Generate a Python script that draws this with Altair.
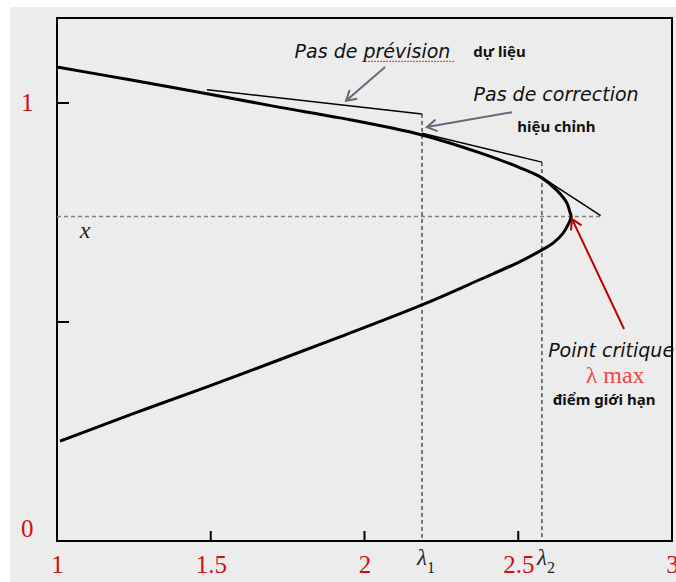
import math
import altair as alt
import pandas as pd

# Plot-area size and axis ranges
W, H = 615, 523
LAM_MIN, LAM_MAX = 1.0, 3.0
V_MAX = 1.194

# Nose (PV) curve: load factor λ against voltage, upper then lower branch
curve_lambda = [1.000, 1.237, 1.488, 1.725, 1.920, 2.187, 2.376, 2.506, 2.577, 2.625,
                2.658, 2.668, 2.672, 2.665, 2.646, 2.613, 2.576, 2.506, 2.376, 2.187,
                1.920, 1.488, 1.237, 1.010]
curve_v = [1.082, 1.053, 1.021, 0.990, 0.966, 0.927, 0.886, 0.852, 0.829, 0.801,
           0.772, 0.751, 0.740, 0.726, 0.703, 0.680, 0.664, 0.638, 0.597, 0.539,
           0.466, 0.352, 0.288, 0.228]

# Predictor steps (tangent segments)
step_lambda0 = [1.488, 2.187, 2.577]
step_v0 = [1.030, 0.931, 0.830]
step_lambda1 = [2.187, 2.577, 2.768]
step_v1 = [0.975, 0.865, 0.743]

# Projection lines down to λ1, λ2
proj_lambda = [2.187, 2.577]
proj_top = [0.975, 0.865]
proj_names = ["λ", "λ"]
proj_subs = ["1", "2"]
proj_dx = [-2, 13]

# Critical voltage level
crit_v = 0.741
crit_lambda_end = 2.768

# Axis ticks and labels
x_ticks = [1.5, 2.0, 2.5]
x_labels = [1, 1.5, 2, 2.5, 3]
y_ticks = [0.5, 1.0]
y_labels = [0, 1]

# Annotation arrows (tail -> head)
arrow_from_lambda = [2.067, 2.480, 2.844]
arrow_from_v = [1.082, 0.979, 0.484]
arrow_to_lambda = [1.940, 2.203, 2.675]
arrow_to_v = [1.005, 0.945, 0.735]
arrow_colors = ["#5f6b7b", "#5f6b7b", "#c00000"]

# Text annotations
italic_text = ["Pas de prévision", "Pas de correction", "Point critique"]
italic_lambda = [2.026, 2.623, 2.802]
italic_v = [1.103, 1.005, 0.420]

bold_text = ["dự liệu", "hiệu chỉnh", "điểm giới hạn"]
bold_lambda = [2.439, 2.624, 2.779]
bold_v = [1.105, 0.934, 0.311]

lmax_text = ["λ max"]
lmax_lambda = [2.815]
lmax_v = [0.361]

var_text = ["x"]
var_lambda = [1.091]
var_v = [0.692]

# spell-check underline under "prévision"
underline_lambda = [1.992, 2.294]
underline_v = [1.095, 1.095]

xs = alt.Scale(domain=[LAM_MIN, LAM_MAX], nice=False, zero=False)
ys = alt.Scale(domain=[0, V_MAX], nice=False, zero=False)

x_axis = alt.Axis(values=x_labels, labelColor="#cc1111",
                  labelFont="Liberation Serif", labelFontSize=25,
                  ticks=False, domain=False, grid=False,
                  labelPadding=11, labelFlush=False, format="~g")
y_axis = alt.Axis(values=y_labels, labelColor="#cc1111",
                  labelFont="Liberation Serif", labelFontSize=25,
                  ticks=False, domain=False, grid=False,
                  labelPadding=24, labelFlush=True, format="~g")


def X(field="lam"):
    return alt.X(f"{field}:Q", scale=xs, title=None, axis=x_axis)


def Y(field="v"):
    return alt.Y(f"{field}:Q", scale=ys, title=None, axis=y_axis)


curve_df = pd.DataFrame({"lam": curve_lambda, "v": curve_v,
                         "i": list(range(len(curve_lambda)))})
curve = alt.Chart(curve_df).mark_line(
    color="black", strokeWidth=3, interpolate="catmull-rom"
).encode(x=X(), y=Y(), order="i:Q")

steps_df = pd.DataFrame({"lam": step_lambda0, "v": step_v0,
                         "lam2": step_lambda1, "v2": step_v1})
steps = alt.Chart(steps_df).mark_rule(color="black", strokeWidth=1.5).encode(
    x=X(), y=Y(), x2="lam2:Q", y2="v2:Q")

proj_df = pd.DataFrame({"lam": proj_lambda, "v": proj_top, "v0": [0, 0],
                        "name": proj_names, "sub": proj_subs, "dx": proj_dx})
proj = alt.Chart(proj_df).mark_rule(color="black", strokeWidth=1,
                                    strokeDash=[4, 3]).encode(
    x=X(), y=Y(), y2="v0:Q")

crit_df = pd.DataFrame({"lam": [LAM_MIN], "lam2": [crit_lambda_end], "v": [crit_v]})
crit = alt.Chart(crit_df).mark_rule(color="#808080", strokeWidth=1.5,
                                    strokeDash=[4, 3]).encode(
    x=X(), x2="lam2:Q", y=Y())

xt_df = pd.DataFrame({"lam": x_ticks})
xticks = alt.Chart(xt_df).mark_rule(color="black", strokeWidth=2).encode(
    x=X(), y=alt.value(H), y2=alt.value(H - 10))
yt_df = pd.DataFrame({"v": y_ticks})
yticks = alt.Chart(yt_df).mark_rule(color="black", strokeWidth=2).encode(
    y=Y(), x=alt.value(0), x2=alt.value(12))

lam_base = alt.Chart(proj_df).encode(x=X(), y=alt.value(H))
lam_sym = lam_base.mark_text(font="Liberation Serif", fontStyle="italic",
                             fontSize=23, baseline="alphabetic", dy=24,
                             color="#222222").encode(
    text="name:N", xOffset=alt.XOffset("dx:Q", scale=None))
lam_sub = lam_base.mark_text(font="Liberation Serif", fontSize=16,
                             baseline="alphabetic", dy=32, dx=9,
                             color="#222222").encode(
    text="sub:N", xOffset=alt.XOffset("dx:Q", scale=None))

# arrows: shaft plus an open chevron head rotated along the shaft
px_x = W / (LAM_MAX - LAM_MIN)
px_y = H / V_MAX
angles = []
for x0, y0, x1, y1 in zip(arrow_from_lambda, arrow_from_v, arrow_to_lambda, arrow_to_v):
    dx = (x1 - x0) * px_x
    dy = -(y1 - y0) * px_y
    angles.append(math.degrees(math.atan2(dx, -dy)) % 360)

arrow_df = pd.DataFrame({"lam": arrow_from_lambda, "v": arrow_from_v,
                         "lam2": arrow_to_lambda, "v2": arrow_to_v,
                         "col": arrow_colors, "ang": angles})
shafts = alt.Chart(arrow_df).mark_rule(strokeWidth=2).encode(
    x=X(), y=Y(), x2="lam2:Q", y2="v2:Q",
    color=alt.Color("col:N", scale=None))
heads = alt.Chart(arrow_df).mark_point(
    shape="M -0.6 1 L 0 0 L 0.6 1", filled=False, strokeWidth=2, size=380,
    opacity=1
).encode(x=X("lam2"), y=Y("v2"), angle=alt.Angle("ang:Q", scale=None),
         stroke=alt.Stroke("col:N", scale=None))

ul_df = pd.DataFrame({"lam": underline_lambda, "v": underline_v})
underline = alt.Chart(ul_df).mark_line(color="#e03030", strokeWidth=1,
                                       strokeDash=[2, 1]).encode(x=X(), y=Y())

it_df = pd.DataFrame({"lam": italic_lambda, "v": italic_v, "t": italic_text})
italic = alt.Chart(it_df).mark_text(font="DejaVu Sans", fontStyle="italic",
                                    fontSize=19, baseline="alphabetic",
                                    color="#111111").encode(
    x=X(), y=Y(), text="t:N")

bd_df = pd.DataFrame({"lam": bold_lambda, "v": bold_v, "t": bold_text})
bold = alt.Chart(bd_df).mark_text(font="Noto Sans", fontWeight="bold",
                                  fontSize=15, baseline="alphabetic",
                                  color="#111111").encode(
    x=X(), y=Y(), text="t:N")

lm_df = pd.DataFrame({"lam": lmax_lambda, "v": lmax_v, "t": lmax_text})
lmax = alt.Chart(lm_df).mark_text(font="Liberation Serif", fontSize=24,
                                  baseline="alphabetic", color="#f04848").encode(
    x=X(), y=Y(), text="t:N")

var_df = pd.DataFrame({"lam": var_lambda, "v": var_v, "t": var_text})
var = alt.Chart(var_df).mark_text(font="Liberation Serif", fontStyle="italic",
                                  fontSize=24, baseline="alphabetic",
                                  color="#222222").encode(
    x=X(), y=Y(), text="t:N")

# white page margin along the top and left edges
margin_df = pd.DataFrame({"k": [0, 1]})
margin_top = alt.Chart(margin_df).transform_filter("datum.k == 0").mark_rect(
    color="white").encode(x=alt.value(-57), x2=alt.value(W + 4),
                          y=alt.value(-18), y2=alt.value(-11))
margin_left = alt.Chart(margin_df).transform_filter("datum.k == 1").mark_rect(
    color="white").encode(x=alt.value(-57), x2=alt.value(-47),
                          y=alt.value(-18), y2=alt.value(H + 41))

chart = alt.layer(
    margin_top, margin_left, crit, proj, steps, curve, xticks, yticks,
    shafts, heads, underline, italic, bold, lmax, var, lam_sym, lam_sub
).properties(
    width=W, height=H,
    autosize=alt.AutoSizeParams(type="none"),
    padding={"left": 57, "top": 18, "right": 4, "bottom": 41},
    background="#ececec",
).configure_view(stroke="black", strokeWidth=2)

chart.save("out.html", embed_options={"renderer": "svg", "actions": False})
